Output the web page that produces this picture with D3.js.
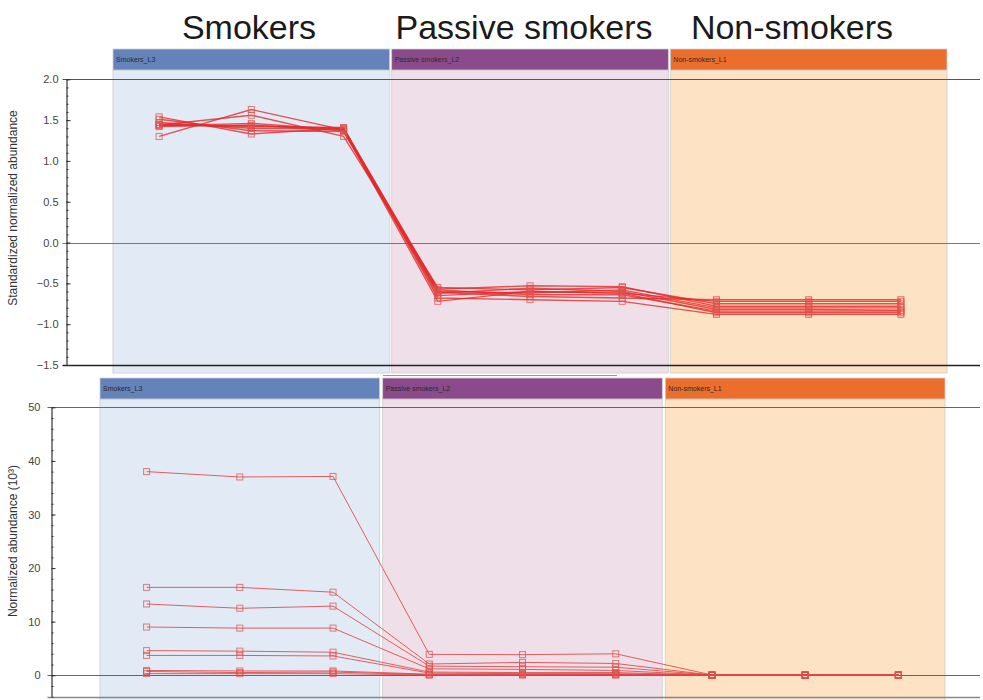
<!DOCTYPE html>
<html><head><meta charset="utf-8">
<script src="https://cdn.jsdelivr.net/npm/d3@7"></script>
<style>
html,body{margin:0;padding:0;background:#fff;}
svg{display:block;font-family:"Liberation Sans",Arial,sans-serif;}
</style></head>
<body>
<svg id="chart" width="983" height="700"></svg>
<script>
// ---------- data ----------
const groups = ["Smokers_L3", "Passive smokers_L2", "Non-smokers_L1"];
const groupTitles = ["Smokers", "Passive smokers", "Non-smokers"];
const samples = ["1", "2", "3"];

// standardized normalized abundance, 9 features x (3 smokers, 3 passive, 3 non-smokers)
const standardized = [
  [1.30, 1.63, 1.38, -0.72, -0.60, -0.62, -0.72, -0.72, -0.72],
  [1.44, 1.56, 1.30, -0.55, -0.58, -0.55, -0.75, -0.75, -0.75],
  [1.54, 1.33, 1.40, -0.57, -0.53, -0.54, -0.78, -0.78, -0.78],
  [1.51, 1.37, 1.36, -0.60, -0.62, -0.58, -0.80, -0.80, -0.80],
  [1.47, 1.40, 1.39, -0.62, -0.56, -0.60, -0.82, -0.82, -0.83],
  [1.44, 1.43, 1.40, -0.58, -0.64, -0.64, -0.84, -0.84, -0.84],
  [1.43, 1.46, 1.38, -0.65, -0.60, -0.62, -0.86, -0.86, -0.86],
  [1.45, 1.42, 1.41, -0.68, -0.70, -0.72, -0.88, -0.88, -0.88],
  [1.42, 1.44, 1.37, -0.61, -0.66, -0.68, -0.70, -0.70, -0.70]
];

// normalized abundance (10^3)
const normalized = [
  [38.0, 37.0, 37.1, 3.9, 3.85, 4.0, 0.05, 0.05, 0.05],
  [16.4, 16.4, 15.5, 2.1, 2.4, 2.2, 0.03, 0.03, 0.03],
  [13.3, 12.5, 12.9, 1.7, 1.6, 1.5, 0.03, 0.03, 0.03],
  [9.0, 8.8, 8.8, 1.2, 1.1, 0.9, 0.02, 0.02, 0.02],
  [4.6, 4.5, 4.3, 0.6, 0.5, 0.5, 0.02, 0.02, 0.02],
  [3.7, 3.7, 3.6, 0.4, 0.3, 0.3, 0.01, 0.01, 0.01],
  [0.9, 0.8, 0.8, 0.2, 0.2, 0.15, 0.01, 0.01, 0.01],
  [0.7, 0.5, 0.6, 0.1, 0.1, 0.1, 0.0, 0.0, 0.0],
  [0.3, 0.3, 0.3, 0.05, 0.05, 0.05, 0.0, 0.0, 0.0]
];

const topTicks = [-1.5, -1.0, -0.5, 0.0, 0.5, 1.0, 1.5, 2.0];
const bottomTicks = [0, 10, 20, 30, 40, 50];

// ---------- styles ----------
const colBg = ["#e2ebf5", "#efdfe8", "#fde2c4"];
const headBg = ["#6483bb", "#8a4a8c", "#ec6e2c"];

const svg = d3.select("#chart");

// big titles
const titleX = d3.scaleBand().domain(groupTitles).range([113, 947]).paddingInner(0.0072);
svg.selectAll("text.title").data(groupTitles).join("text")
  .attr("class", "title")
  .attr("x", (d, i) => [249, 524, 792][i])
  .attr("y", 39)
  .attr("text-anchor", "middle")
  .attr("font-size", 34)
  .attr("fill", "#1a1a1a")
  .text(d => d);

function panel(cfg) {
  const g = svg.append("g");
  const xBand = d3.scaleBand().domain(groups).range(cfg.bandRange).paddingInner(cfg.padInner);
  const xIn = d3.scalePoint().domain(samples).range([0, xBand.bandwidth()]).padding(0.5);
  const y = d3.scaleLinear().domain(cfg.domain).range(cfg.yRange);

  // column backgrounds
  g.selectAll("rect.col").data(groups).join("rect")
    .attr("x", d => xBand(d)).attr("y", cfg.headY + cfg.headH)
    .attr("width", xBand.bandwidth()).attr("height", cfg.colBottom - cfg.headY - cfg.headH)
    .attr("fill", (d, i) => colBg[i]).attr("stroke", "#d4d4d4").attr("stroke-width", 1);
  // header bars
  g.selectAll("rect.head").data(groups).join("rect")
    .attr("x", d => xBand(d)).attr("y", cfg.headY)
    .attr("width", xBand.bandwidth()).attr("height", cfg.headH)
    .attr("fill", (d, i) => headBg[i]).attr("stroke", "#cfcfcf").attr("stroke-width", 0.8);
  g.selectAll("text.head").data(groups).join("text")
    .attr("x", d => xBand(d) + 3).attr("y", cfg.headY + cfg.headH / 2 + 2.5)
    .attr("font-size", 7).attr("fill", "#2a2a2a").text(d => d);

  // horizontal reference lines
  g.selectAll("line.h").data(cfg.hLines).join("line")
    .attr("x1", cfg.axisX - 4).attr("x2", 980)
    .attr("y1", d => Math.round(y(d.v)) + 0.5).attr("y2", d => Math.round(y(d.v)) + 0.5)
    .attr("stroke", d => d.c).attr("stroke-width", d => d.w);

  // y axis with minor ticks
  const minor = d3.range(cfg.domain[0], cfg.domain[1] + 1e-9, cfg.minorStep);
  g.append("g").attr("transform", `translate(${cfg.axisX},0)`)
    .call(d3.axisLeft(y).tickValues(minor).tickSize(2).tickFormat(""))
    .call(a => a.selectAll(".tick line").attr("x2", 2).attr("stroke", "#333"))
    .call(a => a.select(".domain").remove());
  const ax = g.append("g").attr("transform", `translate(${cfg.axisX},0)`)
    .call(d3.axisLeft(y).tickValues(cfg.ticks).tickSize(4).tickPadding(cfg.tickPad).tickFormat(cfg.fmt));
  ax.select(".domain").remove();
  ax.selectAll(".tick line").attr("x2", 4).attr("stroke", "#333");
  ax.selectAll(".tick text").attr("font-size", 11).attr("fill", "#444")
    .attr("font-family", "'Liberation Sans',Arial,sans-serif");
  g.append("line").attr("x1", cfg.axisX + 0.5).attr("x2", cfg.axisX + 0.5)
    .attr("y1", cfg.yRange[1]).attr("y2", cfg.yRange[0]).attr("stroke", "#333").attr("stroke-width", 1.2);

  // axis title
  g.append("text")
    .attr("transform", `translate(${cfg.labelX},${cfg.labelY}) rotate(-90)`)
    .attr("text-anchor", "middle").attr("font-size", 12).attr("fill", "#333")
    .text(cfg.label);

  // data lines
  const pos = [];
  groups.forEach(gr => samples.forEach(s => pos.push(xBand(gr) + xIn(s))));
  const line = d3.line().x((d, i) => pos[i]).y(d => y(d));
  g.selectAll("path.series").data(cfg.data).join("path")
    .attr("d", line).attr("fill", "none")
    .attr("stroke", cfg.lineColor).attr("stroke-width", cfg.lineW).attr("stroke-opacity", cfg.lineOp);
  const pts = [];
  cfg.data.forEach(s => s.forEach((v, i) => pts.push({ x: pos[i], v })));
  const m = cfg.mark;
  g.selectAll("rect.pt").data(pts).join("rect")
    .attr("x", d => d.x - m / 2).attr("y", d => y(d.v) - m / 2)
    .attr("width", m).attr("height", m)
    .attr("fill", "none").attr("stroke", "#e0504c").attr("stroke-opacity", 0.75).attr("stroke-width", 1);
}

// top panel
panel({
  bandRange: [113, 947], padInner: 0.0072,
  headY: 49, headH: 21, colBottom: 373,
  domain: [-1.5, 2.0], yRange: [365, 79.3],
  axisX: 66.5, minorStep: 0.1, ticks: topTicks, tickPad: 4,
  fmt: d3.format(".1f"),
  hLines: [{ v: 2.0, c: "#555", w: 1 }, { v: 0, c: "#777", w: 1 }, { v: -1.5, c: "#222", w: 1.6 }],
  label: "Standardized normalized abundance", labelX: 17, labelY: 208,
  data: standardized, lineColor: "#e22a2a", lineW: 1.4, lineOp: 0.8, mark: 6
});

// separator line between panels
svg.append("line").attr("x1", 383).attr("x2", 617).attr("y1", 375.5).attr("y2", 375.5)
  .attr("stroke", "#999").attr("stroke-width", 1);

// bottom panel
panel({
  bandRange: [100, 945], padInner: 0.0107,
  headY: 378, headH: 21, colBottom: 702,
  domain: [-4, 50], yRange: [696.7, 407.3],
  axisX: 51.5, minorStep: 2, ticks: bottomTicks, tickPad: 7,
  fmt: d3.format("d"),
  hLines: [{ v: 50, c: "#666", w: 1 }, { v: 0, c: "#666", w: 1 }, { v: -4, c: "#888", w: 1.6 }],
  label: "Normalized abundance (10³)", labelX: 17, labelY: 541,
  data: normalized, lineColor: "#e04444", lineW: 1, lineOp: 0.85, mark: 6
});
</script>
</body></html>
